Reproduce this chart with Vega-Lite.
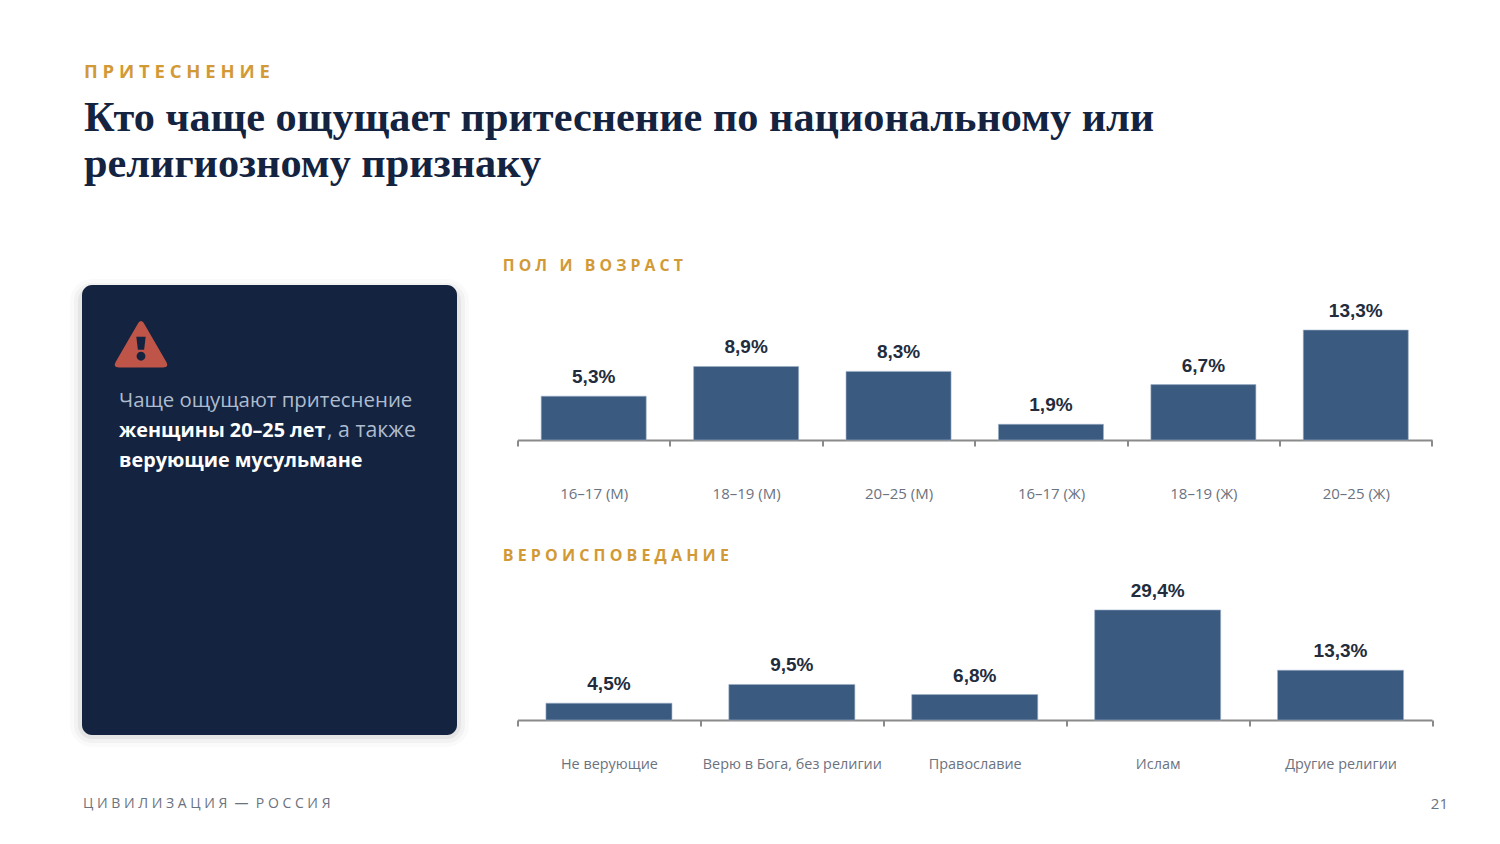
{
  "$schema": "https://vega.github.io/schema/vega-lite/v6.json",
  "background": "#ffffff",
  "padding": {"left": 70, "top": 63, "right": 20, "bottom": 0},
  "title": {
    "text": "П Р И Т Е С Н Е Н И Е",
    "subtitle": ["Кто чаще ощущает притеснение по национальному или", "религиозному признаку"],
    "anchor": "start",
    "frame": "bounds",
    "dx": 14,
    "offset": 73,
    "font": "Open Sans",
    "fontSize": 18.5,
    "fontWeight": "bold",
    "color": "#d29a36",
    "subtitleFont": "Liberation Serif",
    "subtitleFontSize": 42.3,
    "subtitleFontWeight": "bold",
    "subtitleColor": "#14233f",
    "subtitleLineHeight": 46,
    "subtitlePadding": 16
  },
  "vconcat": [
    {
      "hconcat": [
        {
          "width": 375,
          "height": 450,
          "data": {"values": [{"line": "l1", "col": "text", "part": "muted", "text": "Чаще ощущают притеснение"}, {"line": "l2", "col": "text", "part": "bold", "text": "женщины 20–25 лет"}, {"line": "l2", "col": "text", "part": "after", "text": ", а также"}, {"line": "l3", "col": "text", "part": "bold", "text": "верующие мусульмане"}]},
          "layer": [
            {"data": {"values": [{}]}, "mark": {"type": "rect", "clip": false, "fill": null, "filled": false, "stroke": "#000000", "strokeOpacity": 0.02, "strokeWidth": 24, "cornerRadius": 10, "yOffset": 6}, "encoding": {}},
            {"data": {"values": [{}]}, "mark": {"type": "rect", "clip": false, "fill": null, "filled": false, "stroke": "#000000", "strokeOpacity": 0.03, "strokeWidth": 16, "cornerRadius": 10, "yOffset": 6}, "encoding": {}},
            {"data": {"values": [{}]}, "mark": {"type": "rect", "clip": false, "fill": null, "filled": false, "stroke": "#000000", "strokeOpacity": 0.05, "strokeWidth": 8, "cornerRadius": 10, "yOffset": 6}, "encoding": {}},
            {"data": {"values": [{}]}, "mark": {"type": "rect", "fill": "#14233f", "cornerRadius": 10}, "encoding": {}},
            {
              "data": {"values": [{"line": "l1", "col": "text"}]},
              "mark": {
                "type": "point",
                "filled": true,
                "opacity": 1,
                "fill": "#bf5548",
                "size": 2704,
                "xOffset": 22,
                "yOffset": -56.5,
                "shape": "M-0.1,-0.82 Q0,-0.95 0.1,-0.82 L0.97,0.68 Q1.1,0.9 0.85,0.9 L-0.85,0.9 Q-1.1,0.9 -0.97,0.68 Z M-0.18,-0.28 L-0.12,0.22 L0.12,0.22 L0.18,-0.28 Z M-0.17,0.47 a0.17,0.17 0 1 0 0.34,0 a0.17,0.17 0 1 0 -0.34,0 Z"
              },
              "encoding": {
                "x": {"field": "col", "type": "nominal", "scale": {"type": "point", "domain": ["text"], "range": [37, 37]}, "axis": null},
                "y": {"field": "line", "type": "nominal", "scale": {"type": "point", "domain": ["l1", "l2", "l3"], "range": [115.5, 175.5], "padding": 0}, "axis": null}
              }
            },
            {
              "transform": [{"filter": "datum.part === 'muted'"}],
              "mark": {"type": "text", "align": "left", "baseline": "middle", "font": "Open Sans", "fontSize": 20.4, "color": "#aebcd0"},
              "encoding": {
                "x": {"field": "col", "type": "nominal", "scale": {"type": "point", "domain": ["text"], "range": [37, 37]}, "axis": null},
                "y": {"field": "line", "type": "nominal", "scale": {"type": "point", "domain": ["l1", "l2", "l3"], "range": [115.5, 175.5], "padding": 0}, "axis": null},
                "text": {"field": "text"}
              }
            },
            {
              "transform": [{"filter": "datum.part === 'after'"}],
              "mark": {"type": "text", "align": "left", "baseline": "middle", "dx": 208, "font": "Open Sans", "fontSize": 21.3, "color": "#aebcd0"},
              "encoding": {
                "x": {"field": "col", "type": "nominal", "scale": {"type": "point", "domain": ["text"], "range": [37, 37]}, "axis": null},
                "y": {"field": "line", "type": "nominal", "scale": {"type": "point", "domain": ["l1", "l2", "l3"], "range": [115.5, 175.5], "padding": 0}, "axis": null},
                "text": {"field": "text"}
              }
            },
            {
              "transform": [{"filter": "datum.part === 'bold'"}],
              "mark": {"type": "text", "align": "left", "baseline": "middle", "font": "Open Sans", "fontSize": 19.8, "fontWeight": "bold", "color": "#ffffff"},
              "encoding": {
                "x": {"field": "col", "type": "nominal", "scale": {"type": "point", "domain": ["text"], "range": [37, 37]}, "axis": null},
                "y": {"field": "line", "type": "nominal", "scale": {"type": "point", "domain": ["l1", "l2", "l3"], "range": [115.5, 175.5], "padding": 0}, "axis": null},
                "text": {"field": "text"}
              }
            }
          ]
        },
        {
          "vconcat": [
            {
              "title": {"text": "П О Л\u00a0\u00a0\u00a0И\u00a0\u00a0\u00a0В О З Р А С Т", "anchor": "start", "frame": "group", "dx": -14.7, "offset": 10, "font": "Open Sans", "fontSize": 15.8, "fontWeight": "bold", "color": "#d29a36"},
              "width": 914.5,
              "height": 155,
              "data": {"values": [{"group": "16–17 (М)", "value": 5.3, "label": "5,3%"}, {"group": "18–19 (М)", "value": 8.9, "label": "8,9%"}, {"group": "20–25 (М)", "value": 8.3, "label": "8,3%"}, {"group": "16–17 (Ж)", "value": 1.9, "label": "1,9%"}, {"group": "18–19 (Ж)", "value": 6.7, "label": "6,7%"}, {"group": "20–25 (Ж)", "value": 13.3, "label": "13,3%"}]},
              "encoding": {
                "x": {"field": "group", "type": "nominal", "sort": null, "scale": {"paddingInner": 0, "paddingOuter": 0}, "axis": {"title": null, "labelAngle": 0, "labelPadding": 40, "tickBand": "extent", "tickSize": 6, "tickWidth": 2, "domainWidth": 2, "domainColor": "#8a8a8a", "tickColor": "#8a8a8a", "labelColor": "#6b7280", "labelFont": "Open Sans", "labelFontSize": 15}},
                "y": {"field": "value", "type": "quantitative", "scale": {"domain": [0, 18.75]}, "axis": null}
              },
              "layer": [
                {"mark": {"type": "bar", "color": "#3b5a80", "stroke": "#9db0c6", "strokeWidth": 0.6, "width": {"band": 0.689}}},
                {"mark": {"type": "text", "baseline": "bottom", "dy": -9, "font": "Liberation Sans", "fontSize": 19, "fontWeight": "bold", "color": "#222c3c"}, "encoding": {"text": {"field": "label"}}}
              ]
            },
            {
              "title": {"text": "В Е Р О И С П О В Е Д А Н И Е", "anchor": "start", "frame": "group", "dx": -14.7, "offset": 18, "font": "Open Sans", "fontSize": 16, "fontWeight": "bold", "color": "#d29a36"},
              "width": 914.5,
              "height": 131,
              "data": {"values": [{"group": "Не верующие", "value": 4.5, "label": "4,5%"}, {"group": "Верю в Бога, без религии", "value": 9.5, "label": "9,5%"}, {"group": "Православие", "value": 6.8, "label": "6,8%"}, {"group": "Ислам", "value": 29.4, "label": "29,4%"}, {"group": "Другие религии", "value": 13.3, "label": "13,3%"}]},
              "encoding": {
                "x": {"field": "group", "type": "nominal", "sort": null, "scale": {"paddingInner": 0, "paddingOuter": 0}, "axis": {"title": null, "labelAngle": 0, "labelPadding": 31, "tickBand": "extent", "tickSize": 6, "tickWidth": 2, "domainWidth": 2, "domainColor": "#8a8a8a", "tickColor": "#8a8a8a", "labelColor": "#6b7280", "labelFont": "Open Sans", "labelFontSize": 14.4}},
                "y": {"field": "value", "type": "quantitative", "scale": {"domain": [0, 35]}, "axis": null}
              },
              "layer": [
                {"mark": {"type": "bar", "color": "#3b5a80", "stroke": "#9db0c6", "strokeWidth": 0.6, "width": {"band": 0.689}}},
                {"mark": {"type": "text", "baseline": "bottom", "dy": -9, "font": "Liberation Sans", "fontSize": 19, "fontWeight": "bold", "color": "#222c3c"}, "encoding": {"text": {"field": "label"}}}
              ]
            }
          ],
          "spacing": 149,
          "bounds": "flush"
        }
      ],
      "spacing": 60.5,
      "bounds": "flush"
    },
    {
      "width": 1365,
      "height": 26,
      "data": {"values": [{"part": "brand", "text": "Ц И В И Л И З А Ц И Я\u00a0\u00a0—\u00a0\u00a0Р О С С И Я"}, {"part": "page", "text": "21"}]},
      "encoding": {
        "x": {"field": "part", "type": "nominal", "scale": {"type": "point", "domain": ["brand", "page"], "range": [1, 1366], "padding": 0}, "axis": null},
        "text": {"field": "text"}
      },
      "layer": [
        {"transform": [{"filter": "datum.part === 'brand'"}], "mark": {"type": "text", "align": "left", "baseline": "middle", "font": "Open Sans", "fontSize": 14, "color": "#6b7280"}},
        {"transform": [{"filter": "datum.part === 'page'"}], "mark": {"type": "text", "align": "right", "baseline": "middle", "font": "Open Sans", "fontSize": 15, "color": "#6b7280"}}
      ]
    }
  ],
  "spacing": 506,
  "bounds": "flush",
  "config": {"view": {"stroke": null}}
}
